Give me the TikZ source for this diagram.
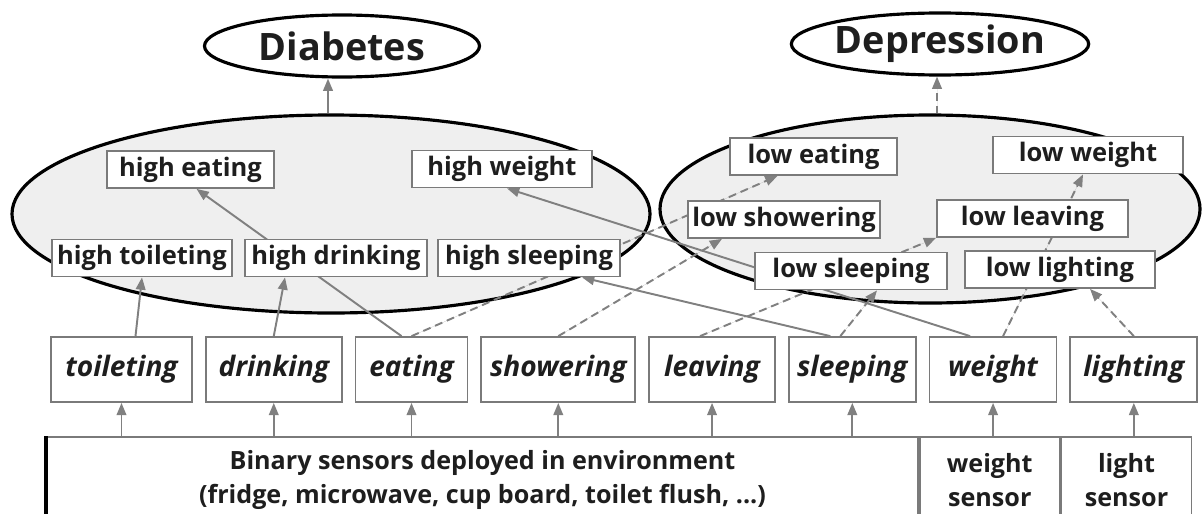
\documentclass[tikz,border=0pt]{standalone}
\usepackage{fontspec}
\setmainfont{Open Sans}
\usetikzlibrary{arrows.meta,positioning,shapes.geometric,backgrounds}
\definecolor{lt}{HTML}{EFEFEF}
\definecolor{gb}{HTML}{7A7A7A}
\definecolor{ln}{HTML}{808080}
\definecolor{tx}{HTML}{1E1E1E}
\pgfdeclarelayer{edges}
\pgfsetlayers{background,edges,main}
\tikzset{
  box/.style={draw=gb,line width=1pt,fill=white,inner sep=0pt,minimum height=7.4mm,text=tx,font=\fontsize{14.5}{17}\selectfont\bfseries},
  abox/.style={box,minimum height=13mm,font=\fontsize{16}{19}\selectfont\bfseries\itshape},
  sbox/.style={box,minimum height=17.2mm,align=center,font=\fontsize{14.3}{19.4}\selectfont\bfseries},
  grp/.style={ellipse,draw=black,line width=1.8pt,fill=lt,inner sep=0pt},
  dis/.style={ellipse,draw=black,line width=1.8pt,fill=white,inner sep=0pt,minimum width=55mm,minimum height=12.4mm,text=tx,font=\fontsize{21.5}{24}\selectfont\bfseries},
  ar/.style={-{Triangle[length=7pt,width=5.5pt]},line width=1.1pt,draw=ln,fill=ln},
  dar/.style={ar,dash pattern=on 4.5pt off 2.8pt},
}

\begin{document}
\begin{tikzpicture}[x=0.2mm,y=-0.2mm]
  \useasboundingbox (0,0) rectangle (1203,513);
  % indicator groups
  \begin{scope}[on background layer]
    \node[grp,minimum width=127.6mm,minimum height=39.6mm] (hi) at (331,214) {};
    \node[grp,minimum width=108mm,minimum height=37.6mm] (lo) at (930,209) {};
  \end{scope}
  \node[dis] (diab) at (342,46) {Diabetes};
  \node[dis] (depr) at (940,44) {Depression};
  % high indicators
  \node[box,minimum width=33.4mm] (heat) at (190.5,169.5) {high eating};
  \node[box,minimum width=36mm] (hwgt) at (502,169) {high weight};
  \node[box,minimum width=36mm] (htoil) at (142,258) {high toileting};
  \node[box,minimum width=36.4mm] (hdrink) at (336,258) {high drinking};
  \node[box,minimum width=36.4mm] (hsleep) at (529,258) {high sleeping};
  % low indicators
  \node[box,minimum width=33.4mm] (leat) at (813.5,156.5) {low eating};
  \node[box,minimum width=38mm] (lwgt) at (1088,155) {low weight};
  \node[box,minimum width=38.4mm] (lshow) at (784,219.5) {low showering};
  \node[box,minimum width=38.2mm] (lleave) at (1032.5,218.5) {low leaving};
  \node[box,minimum width=38.4mm] (lsleep) at (851,271) {low sleeping};
  \node[box,minimum width=38mm] (llight) at (1060,269.5) {low lighting};
  % activities
  \node[abox,minimum width=28.2mm] (toil) at (121.5,369.5) {toileting};
  \node[abox,minimum width=27.2mm,right=2.4mm of toil] (drink) {drinking};
  \node[abox,minimum width=22.4mm,right=2.4mm of drink] (eat) {eating};
  \node[abox,minimum width=30.8mm,right=2.4mm of eat] (show) {showering};
  \node[abox,minimum width=25.2mm,right=2.4mm of show] (leave) {leaving};
  \node[abox,minimum width=25.4mm,right=2.4mm of leave] (sleep) {sleeping};
  \node[abox,minimum width=25.4mm,right=2.4mm of sleep] (wgt) {weight};
  \node[abox,minimum width=25.4mm,right=2.4mm of wgt] (light) {lighting};
  % sensors
  \node[sbox,minimum width=174.2mm] (bin) at (482.5,480) {Binary sensors deployed in environment\\(fridge, microwave, cup board, toilet flush, ...)};
  \node[sbox,minimum width=28mm,right=0pt of bin] (ws) {weight\\sensor};
  \node[sbox,minimum width=26mm,right=0pt of ws] (ls) {light\\sensor};
  \draw[line width=2pt] (bin.north west) -- (bin.south west);

  \begin{pgfonlayer}{edges}
    \foreach \a in {toil,drink,eat,show,leave,sleep}
      \draw[ar] (\a.south |- bin.north) -- (\a.south);
    \draw[ar] (wgt.south |- ws.north) -- (wgt.south);
    \draw[ar] (light.south |- ls.north) -- (light.south);
    % to high indicators
    \draw[ar] ([xshift=2.8mm]toil.north) -- (htoil.south);
    \draw[ar] (drink.north) -- ([xshift=-10.2mm]hdrink.south);
    \draw[ar] ([xshift=-2mm]eat.north) -- ([xshift=1.2mm]heat.south);
    \draw[ar] ([xshift=-4.4mm]sleep.north) -- ([xshift=10.6mm]hsleep.south);
    \draw[ar] ([xshift=-4.6mm]wgt.north) -- ([xshift=1mm]hwgt.south);
    % to low indicators
    \draw[dar] (eat.north) -- ([xshift=-7.2mm]leat.south);
    \draw[dar] (show.north) -- ([xshift=-12.4mm]lshow.south);
    \draw[dar] ([xshift=-2.4mm]leave.north) -- (lleave.south west);
    \draw[dar] ([xshift=-2.4mm]sleep.north) -- ([xshift=5.2mm]lsleep.south);
    \draw[dar] ([xshift=2mm]wgt.north) -- ([xshift=-1mm]lwgt.south);
    \draw[dar] (light.north) -- ([xshift=6mm]llight.south);
    % to diseases
    \draw[ar] ([xshift=-0.6mm]hi.north) -- ([xshift=-0.6mm]hi.north |- diab.south);
    \draw[dar] ([xshift=1.4mm]lo.north) -- ([xshift=1.4mm]lo.north |- depr.south);
  \end{pgfonlayer}
\end{tikzpicture}
\end{document}
